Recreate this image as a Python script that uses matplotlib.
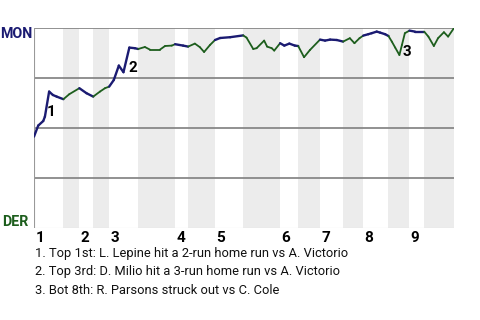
import matplotlib
matplotlib.use("Agg")
import matplotlib.pyplot as plt

# win probability for MON, by play
plays = [0, 1.0, 2.2, 2.6, 3.6, 4.5, 5.4, 7.0, 8.4, 10.8, 12.5, 14.1, 15.7, 16.9,
         17.9, 19.0, 20.2, 21.3, 22.7, 24.0, 24.8, 26.4, 27.6, 30.0, 31.2, 32.8,
         33.6, 35.5, 36.7, 38.3, 39.5, 40.5, 41.9, 43.1, 44.3, 46.7, 49.8, 50.6,
         52.2, 53.0, 54.8, 55.5, 56.6, 57.2, 58.6, 59.6, 60.8, 62.1, 62.9, 64.3,
         65.7, 68.1, 69.3, 70.5, 72.1, 73.6, 75.2, 76.3, 77.5, 78.4, 79.6, 80.4,
         81.6, 82.4, 83.6, 84.4, 85.2, 86.0, 87.0, 87.6, 88.3, 89.4, 90.7, 92.9,
         93.9, 95.2, 96.2, 97.6, 98.6, 100]
wp = [0.457, 0.512, 0.535, 0.557, 0.682, 0.665, 0.657, 0.644, 0.669, 0.699,
      0.674, 0.657, 0.682, 0.699, 0.707, 0.74, 0.812, 0.779, 0.902, 0.899,
      0.895, 0.905, 0.892, 0.892, 0.91, 0.912, 0.919, 0.912, 0.907, 0.922,
      0.904, 0.88, 0.915, 0.94, 0.95, 0.954, 0.963, 0.952, 0.895, 0.899,
      0.937, 0.907, 0.899, 0.887, 0.924, 0.912, 0.922, 0.912, 0.91, 0.854,
      0.89, 0.942, 0.937, 0.942, 0.94, 0.932, 0.949, 0.924, 0.949, 0.962,
      0.969, 0.974, 0.982, 0.977, 0.969, 0.96, 0.932, 0.902, 0.865, 0.915,
      0.974, 0.987, 0.982, 0.982, 0.957, 0.91, 0.949, 0.979, 0.957, 1.0]

# start of each half inning (top 1st, bot 1st, top 2nd, ...)
half_starts = [0, 7.0, 10.8, 14.1, 17.9, 24.8, 33.6, 36.7, 43.1, 49.8, 58.6,
               62.9, 68.1, 73.6, 78.4, 84.4, 89.4, 92.9]
game_end = 100
innings = ["1", "2", "3", "4", "5", "6", "7", "8", "9"]

# key plays
event_ids = ["1", "2", "3"]
event_x = [4.05, 23.5, 88.7]
event_y = [0.58, 0.8025, 0.8825]
event_text = [
    "1. Top 1st: L. Lepine hit a 2-run home run vs A. Victorio",
    "2. Top 3rd: D. Milio hit a 3-run home run vs A. Victorio",
    "3. Bot 8th: R. Parsons struck out vs C. Cole",
]

away, home = "MON", "DER"
away_color = "#1b1b72"
home_color = "#1d5e1d"

bold_font = ["Roboto", "DejaVu Sans"]

fig = plt.figure(figsize=(4.8, 3.2), dpi=100)
ax = fig.add_axes([34 / 480, 1 - 228 / 320, 420 / 480, 200 / 320])
ax.set_xlim(0, game_end)
ax.set_ylim(0, 1)
ax.axis("off")

# shade bottom halves
ends = half_starts[1:] + [game_end]
for i, (a, b) in enumerate(zip(half_starts, ends)):
    if i % 2 == 1:
        ax.axvspan(a, b, color="#ececec", lw=0, zorder=0)

for y in [0.25, 0.5, 0.75, 1.0]:
    ax.axhline(y, color="#888888", lw=1.3, zorder=1)
ax.axhline(0, color="#d0d0d0", lw=0.8, zorder=1)
ax.axvline(0, color="#999999", lw=0.8, zorder=1)

# line, coloured by which team is batting
for i in range(len(plays) - 1):
    half = max(j for j, s in enumerate(half_starts) if s <= plays[i])
    top = half % 2 == 0
    ax.plot(plays[i:i + 2], wp[i:i + 2],
            color=away_color if top else home_color,
            lw=1.7 if top else 1.3, solid_capstyle="round", zorder=3)

for lab, x, y in zip(event_ids, event_x, event_y):
    ax.text(x, y, lab, ha="center", va="center", fontsize=11,
            fontweight="bold", family=bold_font, color="black", zorder=4)

for lab, x in zip(innings, half_starts[0::2]):
    ax.text(x + 0.3, -0.05, lab, ha="left", va="center", fontsize=11,
            fontweight="bold", family=bold_font, clip_on=False)

fig.text(32 / 480, 1 - 34.5 / 320, away, ha="right", va="center",
         fontsize=10.2, fontweight="bold", family=bold_font, color=away_color)
fig.text(2 / 480, 1 - 222.5 / 320, home, ha="left", va="center",
         fontsize=10.2, fontweight="bold", family=bold_font, color=home_color)

for k, t in enumerate(event_text):
    fig.text(35 / 480, 1 - (254 + 18 * k) / 320, t, ha="left", va="center",
             fontsize=9.3, family=["Roboto", "DejaVu Sans"], color="#111111")

fig.savefig("out.png", dpi=100)
